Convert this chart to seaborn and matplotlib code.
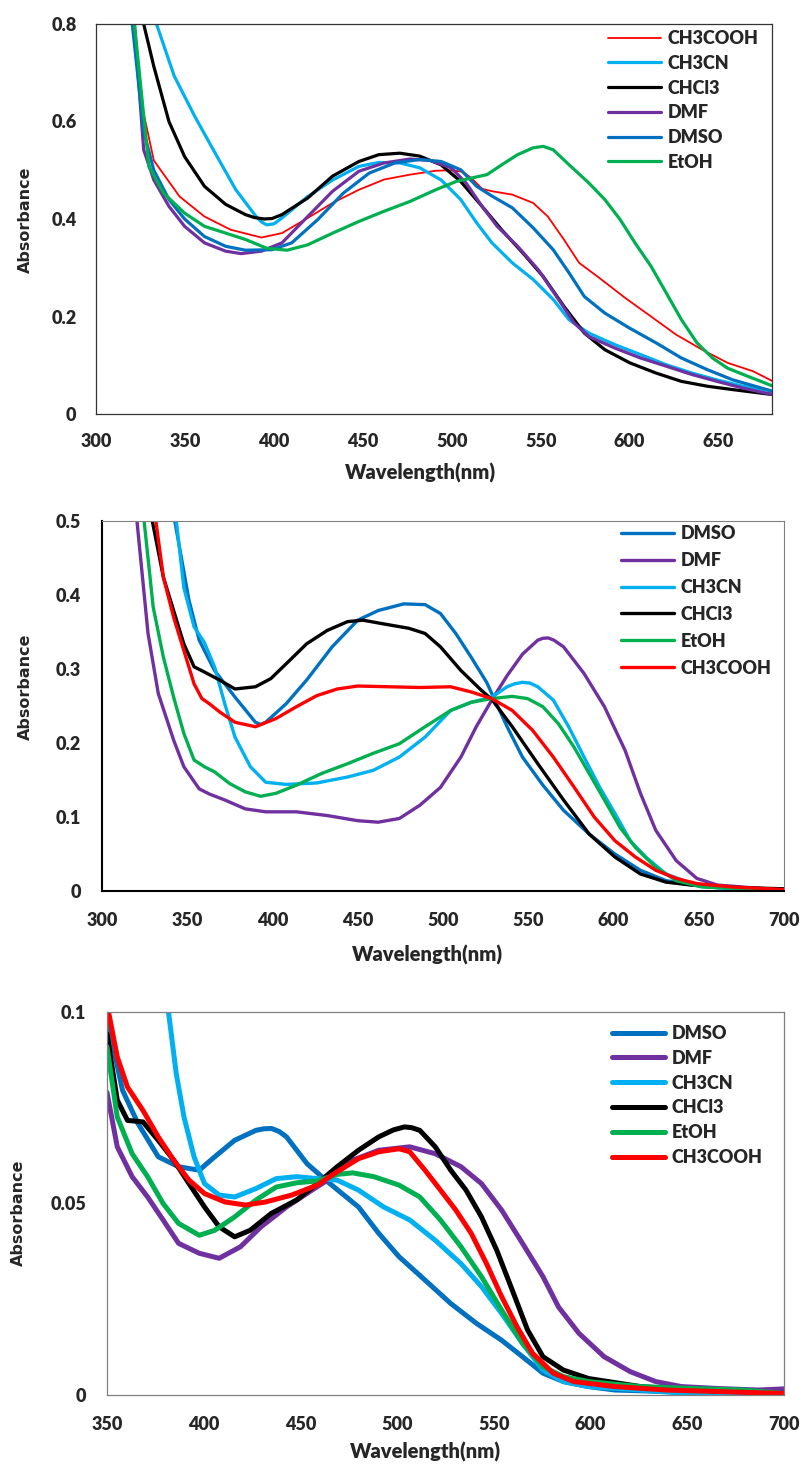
import matplotlib
matplotlib.use("Agg")
import matplotlib.pyplot as plt
import seaborn as sns
import pandas as pd

# ---------------- Panel 1 data (xlim 300-680, ylim 0-0.8) ----------------
P1_CH3COOH_WL = [319, 321, 326, 332.5, 347, 361, 375.7, 393, 404.5, 419, 433, 447.8, 462, 476.5, 491, 499.6, 506, 511, 517, 522.6, 534, 545.7, 554, 563, 571.6, 583, 597.5, 612, 626, 640.7, 655, 669.5, 680]
P1_CH3COOH_A = [0.85, 0.80, 0.63, 0.52, 0.446, 0.405, 0.378, 0.362, 0.371, 0.402, 0.433, 0.46, 0.481, 0.491, 0.499, 0.50, 0.497, 0.484, 0.462, 0.457, 0.45, 0.433, 0.405, 0.358, 0.31, 0.279, 0.238, 0.2, 0.163, 0.132, 0.105, 0.0875, 0.068]
P1_CH3CN_WL = [331, 334, 344, 355.6, 367, 378.6, 390, 393, 396, 400, 404.5, 419, 433, 447.8, 459, 470.8, 482, 494, 505, 514, 522.6, 534, 545.7, 557, 566, 577, 591.8, 606, 620.6, 635, 649, 663.8, 680]
P1_CH3CN_A = [0.85, 0.80, 0.693, 0.61, 0.535, 0.46, 0.405, 0.394, 0.388, 0.390, 0.402, 0.446, 0.48, 0.508, 0.516, 0.515, 0.505, 0.48, 0.44, 0.392, 0.351, 0.31, 0.276, 0.235, 0.193, 0.166, 0.142, 0.122, 0.101, 0.084, 0.07, 0.057, 0.047]
P1_CHCL3_WL = [325, 326.8, 332.5, 341, 349.8, 361, 372.9, 384, 389, 394.5, 399, 404.5, 419, 433, 447.8, 459, 470.8, 482, 494, 505, 517, 528, 540, 551.4, 563, 574.5, 586, 600, 614.8, 629, 643.6, 658, 680]
P1_CHCL3_A = [0.85, 0.80, 0.713, 0.60, 0.528, 0.467, 0.43, 0.409, 0.403, 0.40, 0.401, 0.409, 0.443, 0.488, 0.518, 0.532, 0.535, 0.529, 0.511, 0.477, 0.426, 0.378, 0.33, 0.282, 0.221, 0.166, 0.132, 0.105, 0.084, 0.067, 0.057, 0.05, 0.04]
P1_DMF_WL = [320, 321.6, 326.8, 332.5, 341, 349.8, 361, 372.9, 381.5, 393, 404.5, 419, 433, 447.8, 462, 476.5, 488, 499.6, 508, 517, 525.5, 537, 548.6, 560, 568.7, 577, 591.8, 606, 620.6, 635, 649, 663.8, 680]
P1_DMF_A = [0.85, 0.80, 0.542, 0.48, 0.426, 0.385, 0.351, 0.334, 0.329, 0.334, 0.351, 0.405, 0.457, 0.498, 0.515, 0.523, 0.52, 0.505, 0.474, 0.426, 0.385, 0.344, 0.296, 0.235, 0.187, 0.159, 0.135, 0.115, 0.098, 0.081, 0.067, 0.053, 0.04]
P1_DMSO_WL = [319, 320.4, 326.8, 332.5, 341, 349.8, 361, 372.9, 384, 398.8, 410, 424.7, 439, 453.5, 468, 482, 494, 505, 514, 522.6, 534, 545.7, 557, 566, 574.5, 586, 600, 614.8, 629, 643.6, 658, 680]
P1_DMSO_A = [0.85, 0.80, 0.58, 0.50, 0.44, 0.40, 0.364, 0.344, 0.336, 0.337, 0.351, 0.399, 0.453, 0.494, 0.515, 0.522, 0.518, 0.501, 0.467, 0.447, 0.423, 0.382, 0.337, 0.289, 0.241, 0.207, 0.176, 0.146, 0.115, 0.091, 0.07, 0.047]
P1_ETOH_WL = [320, 321.6, 329.7, 338, 349.8, 361, 372.9, 384, 396, 407.4, 419, 433, 447.8, 462, 476.5, 491, 502.5, 511, 519.8, 528, 537, 545.7, 551.4, 557, 566, 577, 586, 594.6, 603, 612, 620.6, 629, 637.8, 646.5, 655, 666.6, 680]
P1_ETOH_A = [0.85, 0.80, 0.508, 0.453, 0.412, 0.385, 0.371, 0.358, 0.34, 0.336, 0.347, 0.371, 0.395, 0.416, 0.436, 0.46, 0.477, 0.484, 0.491, 0.511, 0.532, 0.546, 0.549, 0.542, 0.511, 0.474, 0.44, 0.399, 0.351, 0.303, 0.248, 0.194, 0.146, 0.115, 0.094, 0.077, 0.058]

# ---------------- Panel 2 data (xlim 300-700, ylim 0-0.5) ----------------
P2_DMSO_WL = [341, 342.7, 351, 357, 366, 378, 390, 393, 396, 408, 420, 435, 450, 462, 477, 489.5, 498.5, 507.5, 516.5, 525.6, 528.6, 537.6, 546.6, 558.6, 570.7, 585.7, 600.8, 615.8, 630.8, 645.9, 661, 700]
P2_DMSO_A = [0.53, 0.5, 0.393, 0.339, 0.298, 0.262, 0.228, 0.225, 0.228, 0.253, 0.285, 0.33, 0.366, 0.379, 0.388, 0.387, 0.375, 0.348, 0.316, 0.282, 0.267, 0.222, 0.181, 0.143, 0.109, 0.077, 0.05, 0.028, 0.014, 0.008, 0.0045, 0.002]
P2_DMF_WL = [319, 320.5, 327, 333, 342, 348, 357, 363, 372, 384, 396, 414, 432, 450, 462, 474.4, 486.5, 498.5, 510.5, 519.5, 528.6, 537.6, 546.6, 555.6, 558.6, 561.7, 565, 570.7, 582.7, 594.7, 606.8, 615.8, 624.8, 636.8, 648.9, 661, 700]
P2_DMF_A = [0.53, 0.5, 0.348, 0.267, 0.204, 0.168, 0.138, 0.131, 0.123, 0.111, 0.107, 0.107, 0.102, 0.095, 0.093, 0.098, 0.116, 0.14, 0.181, 0.222, 0.258, 0.291, 0.32, 0.339, 0.3415, 0.342, 0.339, 0.33, 0.294, 0.249, 0.19, 0.132, 0.082, 0.041, 0.017, 0.008, 0.001]
P2_CH3CN_WL = [342, 343.6, 348, 354, 360, 366, 372, 378, 387, 396, 408, 426, 444, 459, 474.4, 489.5, 504.5, 516.5, 528.6, 537.6, 542, 546.6, 551, 555.6, 564.7, 573.7, 582.7, 591.7, 600.8, 609.8, 618.8, 630.8, 645.9, 661, 700]
P2_CH3CN_A = [0.53, 0.5, 0.41, 0.357, 0.336, 0.303, 0.253, 0.208, 0.168, 0.147, 0.144, 0.146, 0.154, 0.163, 0.181, 0.208, 0.244, 0.255, 0.262, 0.276, 0.280, 0.282, 0.281, 0.276, 0.258, 0.222, 0.181, 0.141, 0.105, 0.068, 0.046, 0.023, 0.01, 0.0045, 0.001]
P2_CHCL3_WL = [328, 329.5, 336, 342, 348, 354, 360, 369, 378, 390, 399, 408, 420, 432, 444, 453, 465, 480, 489.5, 498.5, 510.5, 522.6, 528.6, 540.6, 555.6, 570.7, 585.7, 600.8, 615.8, 630.8, 645.9, 675, 700]
P2_CHCL3_A = [0.53, 0.5, 0.424, 0.379, 0.334, 0.303, 0.296, 0.285, 0.273, 0.276, 0.287, 0.307, 0.334, 0.352, 0.364, 0.366, 0.361, 0.355, 0.348, 0.33, 0.298, 0.271, 0.259, 0.222, 0.172, 0.123, 0.077, 0.046, 0.023, 0.012, 0.008, 0.0045, 0.003]
P2_ETOH_WL = [323, 324.7, 330, 336, 342, 348, 354, 360, 366, 375, 384, 393, 402, 414, 429, 444, 459, 474.4, 489.5, 504.5, 516.5, 528.6, 540.6, 549.6, 558.6, 567.7, 576.7, 585.7, 594.7, 603.8, 612.8, 624.8, 636.8, 651.9, 700]
P2_ETOH_A = [0.53, 0.5, 0.384, 0.316, 0.262, 0.213, 0.177, 0.168, 0.161, 0.145, 0.134, 0.128, 0.132, 0.143, 0.159, 0.172, 0.186, 0.199, 0.222, 0.244, 0.255, 0.26, 0.263, 0.26, 0.249, 0.226, 0.195, 0.159, 0.123, 0.086, 0.059, 0.032, 0.014, 0.0054, 0.001]
P2_CH3COOH_WL = [330, 331.6, 336, 342, 348, 354, 358.6, 363, 369, 378, 390, 402, 414, 426, 438, 450, 468, 486.5, 504.5, 516.5, 528.6, 540.6, 552.6, 564.7, 576.7, 588.7, 600.8, 612.8, 624.8, 636.8, 648.9, 670, 700]
P2_CH3COOH_A = [0.53, 0.5, 0.424, 0.37, 0.325, 0.28, 0.26, 0.253, 0.242, 0.228, 0.222, 0.233, 0.249, 0.264, 0.273, 0.277, 0.276, 0.275, 0.276, 0.269, 0.26, 0.244, 0.217, 0.181, 0.141, 0.1, 0.068, 0.046, 0.028, 0.017, 0.01, 0.0054, 0.002]

# ---------------- Panel 3 data (xlim 350-700, ylim 0-0.1) ----------------
P3_DMSO_WL = [350, 358, 366, 376.5, 387, 397.7, 405.7, 416, 427, 431, 435, 439, 442.8, 453.4, 464, 480, 490.5, 501, 514.4, 527.7, 541, 554, 564.8, 575.4, 586, 599, 612.5, 639, 665.6, 700]
P3_DMSO_A = [0.0987, 0.0796, 0.0709, 0.0622, 0.0596, 0.0587, 0.0622, 0.0665, 0.0691, 0.0695, 0.0696, 0.0688, 0.0674, 0.0604, 0.0557, 0.0491, 0.0422, 0.0361, 0.03, 0.0239, 0.0187, 0.0143, 0.01, 0.0057, 0.0035, 0.0022, 0.0013, 0.0009, 0.0009, 0.0004]
P3_DMF_WL = [350, 355.3, 363, 371, 379, 387, 397.7, 408, 419, 429.6, 442.8, 456, 464, 477, 490.5, 506.5, 519.7, 533, 543.6, 554, 564.8, 575.4, 583.4, 594, 607, 620.5, 633.7, 647, 665.6, 686.8, 700]
P3_DMF_A = [0.079, 0.0648, 0.057, 0.0517, 0.0457, 0.0396, 0.037, 0.0357, 0.0387, 0.0439, 0.0491, 0.0535, 0.0561, 0.0613, 0.0639, 0.0648, 0.063, 0.0596, 0.0552, 0.0483, 0.0396, 0.0309, 0.023, 0.0161, 0.01, 0.0061, 0.0035, 0.0022, 0.0017, 0.0013, 0.0016]
P3_CH3CN_WL = [381, 381.8, 385.8, 389.8, 395, 400.4, 408, 416, 427, 437.5, 448, 458.7, 469, 480, 493, 506.5, 519.7, 533, 543.6, 554, 564.8, 575.4, 586, 599, 625.8, 652, 678.8, 700]
P3_CH3CN_A = [0.103, 0.1, 0.0839, 0.0726, 0.0622, 0.0552, 0.0522, 0.0517, 0.0539, 0.0565, 0.057, 0.0565, 0.0561, 0.0535, 0.0491, 0.0457, 0.0404, 0.0343, 0.0283, 0.0213, 0.0135, 0.0065, 0.0035, 0.0022, 0.0013, 0.0003, 0.0, 0.0003]
P3_CHCL3_WL = [350, 355.3, 360.6, 368.6, 376.5, 384.5, 392.4, 400.4, 408, 416, 424, 434.9, 448, 458.7, 469, 480, 490.5, 498, 503.8, 507.5, 511.7, 519.7, 527.7, 535.6, 543.6, 551.5, 559.5, 567.4, 575.4, 586, 599, 625.8, 652, 700]
P3_CHCL3_A = [0.0943, 0.077, 0.0717, 0.0713, 0.0665, 0.0613, 0.0552, 0.0491, 0.0439, 0.0413, 0.043, 0.0474, 0.0509, 0.0552, 0.0596, 0.0639, 0.0674, 0.0692, 0.07, 0.0698, 0.0691, 0.0648, 0.0587, 0.0535, 0.0465, 0.0378, 0.0274, 0.017, 0.01, 0.0065, 0.0043, 0.0022, 0.0013, 0.0004]
P3_ETOH_WL = [350, 355.3, 363, 371, 379, 387, 397.7, 405.7, 416, 427, 437.5, 448, 458.7, 469, 477, 488, 501, 511.7, 522.4, 533, 543.6, 554, 564.8, 575.4, 586, 599, 625.8, 652, 678.8, 700]
P3_ETOH_A = [0.0909, 0.0726, 0.063, 0.057, 0.05, 0.0448, 0.0417, 0.043, 0.0465, 0.0509, 0.0543, 0.0554, 0.0559, 0.0576, 0.058, 0.057, 0.0548, 0.0517, 0.0457, 0.0387, 0.0309, 0.0222, 0.0135, 0.0074, 0.0048, 0.0035, 0.0022, 0.0017, 0.0013, 0.0004]
P3_CH3COOH_WL = [350, 350.8, 355.3, 360.6, 368.6, 376.5, 384.5, 392.4, 400.4, 411, 421.6, 432, 445.5, 458.7, 469, 480, 490.5, 501, 506.5, 514.4, 522.4, 530.3, 538.3, 546.2, 554, 562, 570, 580.7, 591.3, 612.5, 639, 700]
P3_CH3COOH_A = [0.102, 0.1, 0.0883, 0.0804, 0.0743, 0.0674, 0.0613, 0.0561, 0.0526, 0.0504, 0.0496, 0.0504, 0.0522, 0.0548, 0.0583, 0.0617, 0.0635, 0.0643, 0.0635, 0.0587, 0.0535, 0.0483, 0.0422, 0.0343, 0.0257, 0.0178, 0.0109, 0.0057, 0.0035, 0.0022, 0.0013, 0.0004]

COLORS = {"CH3COOH": "#FF0000", "CH3CN": "#00B0F0", "CHCl3": "#000000",
          "DMF": "#7030A0", "DMSO": "#0070C0", "EtOH": "#00B050"}

PANEL1 = [("CH3COOH", P1_CH3COOH_WL, P1_CH3COOH_A), ("CH3CN", P1_CH3CN_WL, P1_CH3CN_A),
          ("CHCl3", P1_CHCL3_WL, P1_CHCL3_A), ("DMF", P1_DMF_WL, P1_DMF_A),
          ("DMSO", P1_DMSO_WL, P1_DMSO_A), ("EtOH", P1_ETOH_WL, P1_ETOH_A)]
PANEL2 = [("DMSO", P2_DMSO_WL, P2_DMSO_A), ("DMF", P2_DMF_WL, P2_DMF_A),
          ("CH3CN", P2_CH3CN_WL, P2_CH3CN_A), ("CHCl3", P2_CHCL3_WL, P2_CHCL3_A),
          ("EtOH", P2_ETOH_WL, P2_ETOH_A), ("CH3COOH", P2_CH3COOH_WL, P2_CH3COOH_A)]
PANEL3 = [("DMSO", P3_DMSO_WL, P3_DMSO_A), ("DMF", P3_DMF_WL, P3_DMF_A),
          ("CH3CN", P3_CH3CN_WL, P3_CH3CN_A), ("CHCl3", P3_CHCL3_WL, P3_CHCL3_A),
          ("EtOH", P3_ETOH_WL, P3_ETOH_A), ("CH3COOH", P3_CH3COOH_WL, P3_CH3COOH_A)]

sns.set_theme(style="white")
plt.rcParams["font.family"] = ["Lato", "DejaVu Sans"]
plt.rcParams["font.weight"] = "heavy"

W, H = 801, 1464
fig = plt.figure(figsize=(W / 100, H / 100), dpi=100)
FW = "heavy"


def rect(l, t, r, b):
    return [l / W, 1 - b / H, (r - l) / W, (b - t) / H]


def draw(ax, series, lw_map, default_lw):
    for name, wl, a in series:
        df = pd.DataFrame({"wl": wl, "A": a})
        sns.lineplot(data=df, x="wl", y="A", ax=ax, color=COLORS[name],
                     linewidth=lw_map.get(name, default_lw), sort=False,
                     estimator=None, label=name, solid_joinstyle="round",
                     solid_capstyle="round")


def style_ticks(ax, xticks, yticks, ylabels, ticklen, pad_x, pad_y, tcolor):
    ax.set_xticks(xticks)
    ax.set_xticklabels([str(v) for v in xticks])
    ax.set_yticks(yticks)
    ax.set_yticklabels(ylabels)
    ax.tick_params(axis="both", direction="out", length=ticklen, width=1.2,
                   color=tcolor, labelsize=13)
    ax.tick_params(axis="x", pad=pad_x)
    ax.tick_params(axis="y", pad=pad_y)
    for lab in ax.get_xticklabels() + ax.get_yticklabels():
        lab.set_fontweight(FW)
    ax.set_xlabel("")
    ax.set_ylabel("")


def legend(ax, x_px, top_px, spacing):
    leg = ax.legend(loc="upper left", bbox_to_anchor=(x_px / W, 1 - top_px / H),
                    bbox_transform=fig.transFigure, frameon=False, borderpad=0,
                    borderaxespad=0, handlelength=2.95, handletextpad=0.35,
                    labelspacing=spacing, prop={"weight": FW, "size": 13})
    return leg


# ---------------- Panel 1 ----------------
ax1 = fig.add_axes(rect(96, 24, 772, 414))
draw(ax1, PANEL1, {"CH3COOH": 1.3}, 2.3)
ax1.set_xlim(300, 680)
ax1.set_ylim(0, 0.8)
style_ticks(ax1, [300, 350, 400, 450, 500, 550, 600, 650], [0, 0.2, 0.4, 0.6, 0.8],
            ["0", "0.2", "0.4", "0.6", "0.8"], 0, 14, 14, "#333333")
for s in ax1.spines.values():
    s.set_color("#333333")
    s.set_linewidth(0.9)
legend(ax1, 608, 30, 0.43)

# ---------------- Panel 2 ----------------
ax2 = fig.add_axes(rect(102, 521, 784, 891))
draw(ax2, PANEL2, {}, 2.4)
ax2.set_xlim(300, 700)
ax2.set_ylim(0, 0.5)
style_ticks(ax2, [300, 350, 400, 450, 500, 550, 600, 650, 700], [0, 0.1, 0.2, 0.3, 0.4, 0.5],
            ["0", "0.1", "0.2", "0.3", "0.4", "0.5"], 4, 11, 11, "#000000")
for side in ["left", "bottom"]:
    ax2.spines[side].set_color("#000000")
    ax2.spines[side].set_linewidth(1.5)
for side in ["top", "right"]:
    ax2.spines[side].set_color("#808080")
    ax2.spines[side].set_linewidth(0.8)
legend(ax2, 621, 525, 0.55)

# ---------------- Panel 3 ----------------
ax3 = fig.add_axes(rect(107, 1012, 784, 1395))
draw(ax3, PANEL3, {}, 3.6)
ax3.set_xlim(350, 700)
ax3.set_ylim(0, 0.1)
style_ticks(ax3, [350, 400, 450, 500, 550, 600, 650, 700], [0, 0.05, 0.1],
            ["0", "0.05", "0.1"], 4, 11, 11, "#808080")
for s in ax3.spines.values():
    s.set_color("#808080")
    s.set_linewidth(0.9)
legend(ax3, 612, 1025, 0.43)

# ---------------- Axis titles ----------------
for (x, y) in [(421, 473), (428, 955), (426, 1452)]:
    fig.text(x / W, 1 - y / H, "Wavelength(nm)", ha="center", va="center",
             fontsize=14.5, fontweight=FW)
for (x, y) in [(25, 220), (25, 687), (18, 1213)]:
    fig.text(x / W, 1 - y / H, "Absorbance", ha="center", va="center", rotation=90,
             fontsize=11.5, fontweight="bold", family=["DejaVu Sans"])

fig.savefig("out.png", dpi=100)
